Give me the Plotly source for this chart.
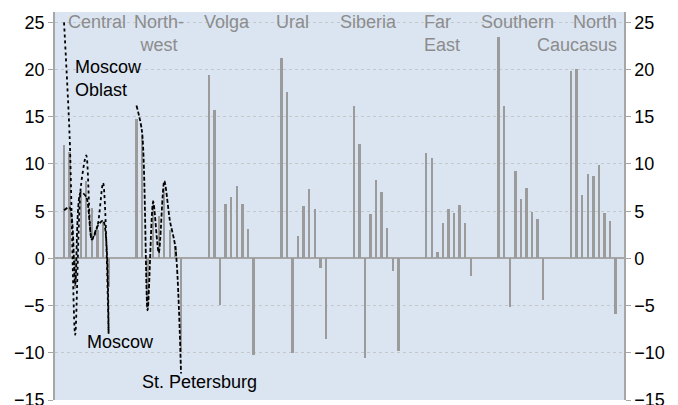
import plotly.graph_objects as go

# ---- data ----
districts = ["Central", "Northwest", "Volga", "Ural", "Siberia",
             "Far East", "Southern", "North Caucasus"]
central = [12.0, 11.3, -3.2, 6.9, 8.2, 5.3, 3.0, 3.9, -3.0]
northwest = [14.8, 13.0, -5.3, 6.2, 4.5, 7.5, 3.0, 1.3, -9.9]
volga = [19.4, 15.7, -4.9, 5.8, 6.5, 7.7, 5.8, 3.1, -10.2]
ural = [21.2, 17.6, -10.0, 2.4, 5.6, 7.3, 5.2, -1.0, -8.5]
siberia = [16.1, 12.1, -10.6, 4.7, 8.3, 7.0, 3.2, -1.3, -9.8]
far_east = [11.2, 10.6, 0.7, 3.7, 5.2, 4.8, 5.7, 3.8, -1.9]
southern = [23.4, 16.1, -5.2, 9.3, 6.3, 7.5, 4.9, 4.2, -4.4]
north_caucasus = [19.9, 20.1, 6.7, 8.9, 8.7, 9.9, 4.8, 4.0, -5.9]
district_values = [central, northwest, volga, ural, siberia,
                   far_east, southern, north_caucasus]

moscow = [5.1, 5.4, -2.8, 7.0, 6.5, 2.0, 3.4, 4.0, -8.1]
moscow_oblast = [25.0, 13.0, -8.1, 7.5, 10.9, 2.0, 3.4, 8.0, -7.9]
st_petersburg = [16.2, 13.4, -5.5, 6.0, 0.6, 8.2, 4.0, 1.1, -12.2]

y_ticks = [-15, -10, -5, 0, 5, 10, 15, 20, 25]

# ---- layout helpers ----
SLOTS = 13  # 9 bars + gap per district


def xs_for(group, n):
    return [group * SLOTS + j for j in range(n)]


BAR_COLOR = "#9b9b9b"
GRID = "#c4c8cc"
AXIS = "#a6a6a6"
LABEL = "#8c8c8c"
FONT = "Liberation Sans, Arial, sans-serif"
FS = 18

fig = go.Figure()

bx, by = [], []
for g, vals in enumerate(district_values):
    bx += xs_for(g, len(vals))
    by += vals
fig.add_trace(go.Bar(x=bx, y=by, width=0.42, marker_color=BAR_COLOR,
                     marker_line_width=0, showlegend=False, hoverinfo="skip"))

fig.add_trace(go.Scatter(x=xs_for(0, len(moscow_oblast)), y=moscow_oblast,
                         mode="lines", line=dict(color="black", width=1.8,
                                                 dash="dot", shape="spline", smoothing=0.8),
                         showlegend=False))
fig.add_trace(go.Scatter(x=xs_for(0, len(moscow)), y=moscow,
                         mode="lines", line=dict(color="black", width=1.8,
                                                 dash="4px,2px", shape="spline", smoothing=0.8),
                         showlegend=False))
fig.add_trace(go.Scatter(x=xs_for(1, len(st_petersburg)), y=st_petersburg,
                         mode="lines", line=dict(color="black", width=1.8,
                                                 dash="4px,2px", shape="spline", smoothing=0.8),
                         showlegend=False))
# carrier for right axis
fig.add_trace(go.Scatter(x=[0], y=[0], yaxis="y2", mode="markers",
                         marker=dict(opacity=0), showlegend=False, hoverinfo="skip"))

yr = [-15, 26.1]
common_y = dict(range=yr, tickvals=y_ticks, ticks="outside", ticklen=5,
                tickcolor=AXIS, showline=True, linecolor=AXIS, linewidth=1.5,
                automargin=False, ticklabeloverflow="allow",
                tickfont=dict(size=FS, color="black", family=FONT), fixedrange=True)

# page body has an 8px margin, so the figure is sized to fit the window
fig.update_layout(
    width=670, height=397,
    margin=dict(l=47, r=54, t=4, b=5, autoexpand=False),
    paper_bgcolor="white",
    plot_bgcolor="#dbe5f1",
    font=dict(family=FONT, size=FS, color="black"),
    bargap=0,
    xaxis=dict(range=[-1.62, 100.5], visible=False, fixedrange=True, automargin=False),
    yaxis=dict(**common_y, showgrid=True, gridcolor=GRID, griddash="dot",
               gridwidth=1, zeroline=True, zerolinecolor=AXIS, zerolinewidth=1.5),
    yaxis2=dict(**common_y, overlaying="y", side="right", anchor="x",
                showgrid=False, zeroline=False),
)

# district labels
labels = [
    ("Central", 5.9, "center"),
    ("North-<br>west", 17.1, "center"),
    ("Volga", 29.2, "center"),
    ("Ural", 41.0, "center"),
    ("Siberia", 54.6, "center"),
    ("Far<br>East", 64.3, "left"),
    ("Southern", 81.3, "center"),
    ("North<br>Caucasus", 99.6, "right"),
]
for text, x, anchor in labels:
    fig.add_annotation(x=x, xref="x", y=1, yref="paper", yanchor="top", yshift=2,
                       xanchor=anchor, align=anchor, text=text, showarrow=False,
                       font=dict(size=FS, color=LABEL, family=FONT))

# line labels
fig.add_annotation(x=1.6, y=19.1, xref="x", yref="y", xanchor="left", align="left",
                   text="Moscow<br>Oblast", showarrow=False,
                   font=dict(size=FS, color="black", family=FONT))
fig.add_annotation(x=3.8, y=-8.9, xref="x", yref="y", xanchor="left",
                   text="Moscow", showarrow=False,
                   font=dict(size=FS, color="black", family=FONT))
fig.add_annotation(x=13.6, y=-13.1, xref="x", yref="y", xanchor="left",
                   text="St. Petersburg", showarrow=False,
                   font=dict(size=FS, color="black", family=FONT))

fig.write_html("out.html")
